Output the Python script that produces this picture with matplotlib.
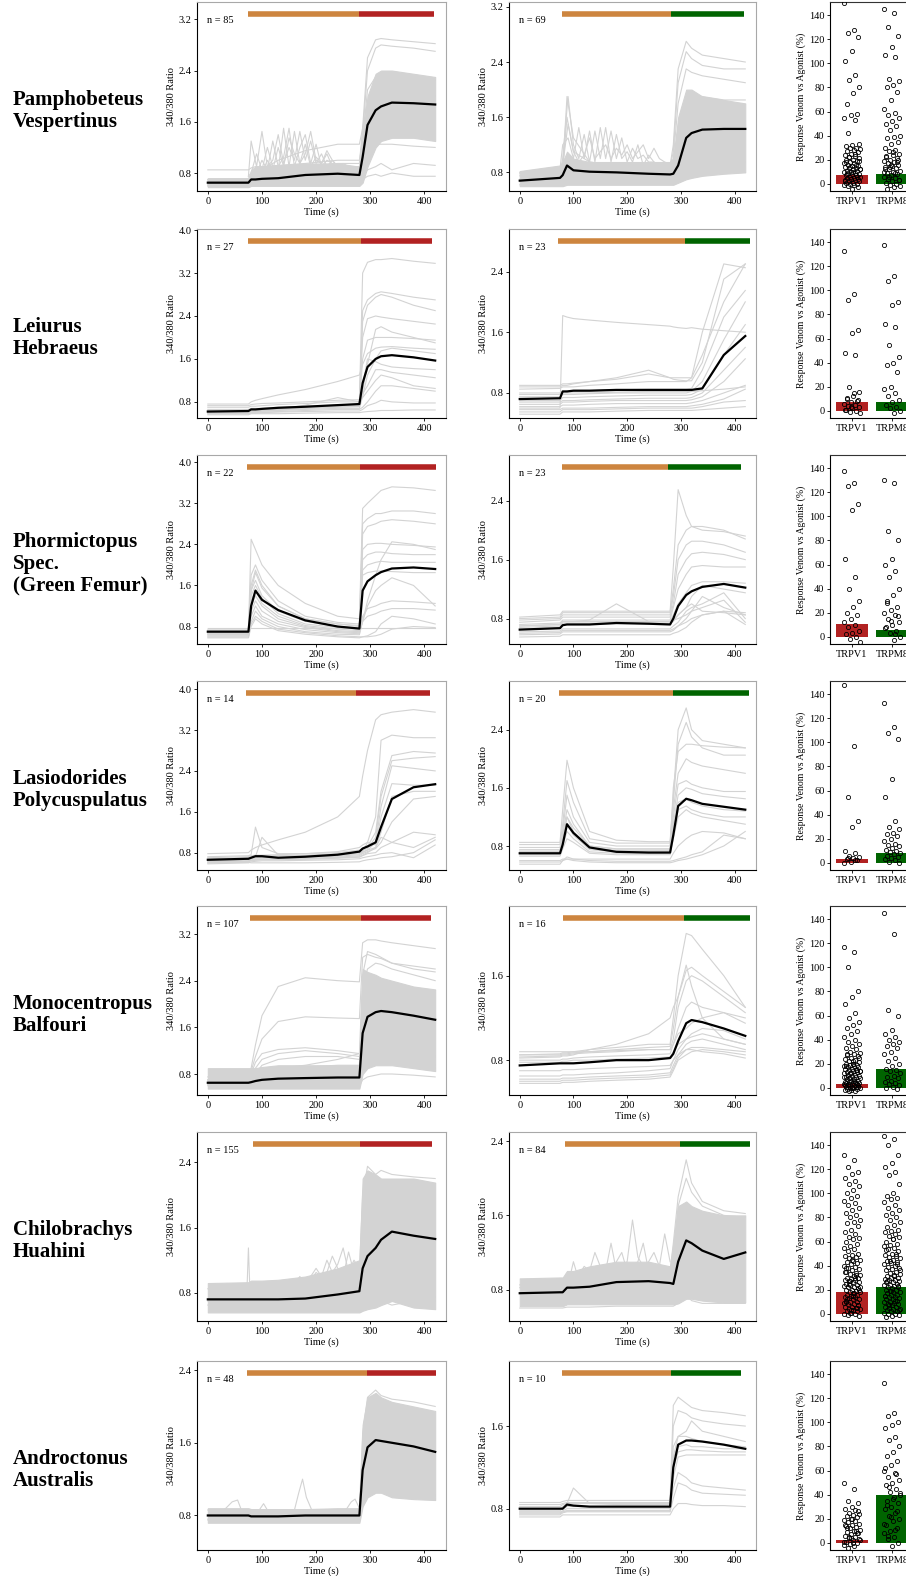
import numpy as np
import matplotlib
matplotlib.use("Agg")
import matplotlib.pyplot as plt
import matplotlib.transforms as mtransforms
from matplotlib.ticker import MultipleLocator, FormatStrFormatter

plt.rcParams['font.family'] = ['Liberation Serif', 'DejaVu Serif']

# --- time knots (s) ---
t_knots = [0, 75, 80, 88, 100, 130, 180, 240, 280, 286, 295, 310, 320, 340, 380, 420]
t_osc = [75, 80, 90, 100, 110, 120, 130, 140, 150, 160, 170, 180, 190, 200, 210, 220, 230, 240, 250, 260, 270, 280]

species = ["Pamphobeteus\nVespertinus", "Leiurus\nHebraeus", "Phormictopus\nSpec.\n(Green Femur)",
           "Lasiodorides\nPolycuspulatus", "Monocentropus\nBalfouri", "Chilobrachys\nHuahini",
           "Androctonus\nAustralis"]
n_v1 = [85, 27, 22, 14, 107, 155, 48]
n_m8 = [69, 23, 23, 20, 16, 84, 10]

# venom start, agonist start, end (s)
stim_v1 = [(74, 280, 417), (74, 283, 415), (72, 282, 421), (71, 274, 410), (77, 283, 412), (83, 281, 414), (72, 294, 422)]
stim_m8 = [(79, 281, 417), (72, 307, 428), (78, 277, 412), (73, 286, 427), (80, 306, 429), (84, 299, 429), (79, 282, 412)]
ylim_v1 = [(0.52, 3.47), (0.5, 4.02), (0.46, 4.14), (0.46, 4.16), (0.44, 3.68), (0.455, 2.77), (0.42, 2.5)]
ylim_m8 = [(0.53, 3.27), (0.47, 2.96), (0.455, 3.02), (0.47, 3.07), (0.47, 2.26), (0.46, 2.5), (0.4, 2.23)]

# ---------------- Pamphobeteus ----------------
pv_v1_mean = [0.65, 0.65, 0.70, 0.70, 0.71, 0.72, 0.77, 0.79, 0.77, 1.05, 1.55, 1.78, 1.84, 1.90, 1.89, 1.87]
pv_v1_lo = [0.58, 0.58, 0.6, 0.6, 0.6, 0.6, 0.6, 0.6, 0.6, 0.65, 0.9, 1.2, 1.3, 1.35, 1.35, 1.3]
pv_v1_hi = [0.72, 0.72, 0.85, 0.9, 0.9, 0.92, 0.95, 0.95, 0.9, 1.3, 2.0, 2.35, 2.4, 2.4, 2.35, 2.3]
pv_v1_cells = [
    [0.7, 0.7, 0.75, 0.8, 0.85, 0.85, 0.9, 0.95, 0.95, 1.5, 2.6, 2.88, 2.9, 2.88, 2.85, 2.82],
    [0.68, 0.68, 0.72, 0.75, 0.78, 0.8, 0.85, 0.9, 0.9, 1.4, 2.4, 2.75, 2.8, 2.78, 2.75, 2.7],
    [0.62, 0.62, 0.66, 0.7, 0.72, 0.75, 0.8, 0.85, 0.85, 1.1, 1.2, 1.25, 1.25, 1.25, 1.22, 1.2],
    [0.6, 0.6, 0.62, 0.62, 0.63, 0.65, 0.7, 0.72, 0.7, 0.75, 0.85, 0.9, 0.95, 0.85, 0.95, 0.92],
    [0.6, 0.6, 0.62, 0.62, 0.62, 0.63, 0.64, 0.65, 0.65, 0.7, 0.75, 0.78, 0.75, 0.8, 0.75, 0.75],
    [0.85, 0.85, 0.88, 0.9, 0.9, 0.92, 0.95, 1.0, 1.0, 1.3, 2.1, 2.3, 2.35, 2.3, 2.3, 2.25],
    [0.7, 0.7, 0.75, 0.8, 0.85, 1.0, 1.15, 1.25, 1.25, 1.5, 1.9, 2.1, 2.15, 2.1, 2.05, 2.0],
]
pv_v1_osc = [
    [0.75, 1.3, 0.9, 1.45, 0.9, 1.0, 1.4, 0.95, 1.2, 1.0, 1.45, 1.0, 1.3, 0.95, 1.1, 0.9, 1.0, 0.9, 0.95, 0.9, 0.85, 0.85],
    [0.75, 0.8, 1.1, 0.85, 1.2, 0.9, 0.85, 1.5, 0.9, 1.45, 0.95, 1.1, 1.45, 1.0, 0.95, 1.1, 0.9, 0.85, 0.9, 0.85, 0.8, 0.8],
    [0.72, 0.75, 0.8, 1.0, 0.85, 1.3, 0.9, 1.05, 1.5, 0.9, 1.2, 1.4, 0.95, 1.25, 0.9, 1.0, 0.95, 0.9, 0.85, 0.85, 0.85, 0.8],
    [0.7, 0.72, 0.75, 0.8, 1.0, 0.85, 1.2, 0.9, 1.35, 1.1, 0.95, 1.25, 0.9, 1.05, 0.95, 1.15, 1.0, 0.9, 0.88, 0.85, 0.82, 0.8],
]
pv_m8_mean = [0.68, 0.72, 0.76, 0.9, 0.83, 0.81, 0.8, 0.78, 0.77, 0.78, 0.9, 1.3, 1.37, 1.42, 1.43, 1.43]
pv_m8_lo = [0.6, 0.6, 0.6, 0.62, 0.62, 0.62, 0.62, 0.62, 0.62, 0.62, 0.65, 0.7, 0.72, 0.75, 0.78, 0.8]
pv_m8_hi = [0.82, 0.9, 0.95, 1.1, 1.0, 0.95, 0.95, 0.95, 0.95, 1.0, 1.6, 2.0, 2.0, 1.9, 1.85, 1.8]
pv_m8_cells = [
    [0.8, 0.85, 0.9, 1.0, 0.95, 0.9, 0.9, 0.9, 0.9, 1.2, 2.3, 2.7, 2.6, 2.5, 2.45, 2.4],
    [0.78, 0.82, 0.88, 0.95, 0.9, 0.88, 0.88, 0.88, 0.88, 1.1, 2.1, 2.55, 2.45, 2.35, 2.3, 2.3],
    [0.75, 0.8, 0.85, 1.9, 1.3, 0.95, 0.9, 0.9, 0.9, 1.0, 1.8, 2.3, 2.25, 2.2, 2.15, 2.1],
    [0.7, 0.75, 0.85, 1.6, 1.1, 0.95, 0.9, 0.9, 0.9, 0.95, 1.4, 1.85, 1.9, 1.9, 1.85, 1.85],
    [0.62, 0.62, 0.65, 0.66, 0.66, 0.66, 0.66, 0.66, 0.66, 0.68, 0.72, 0.8, 0.85, 0.9, 0.92, 0.95],
]
pv_m8_osc = [
    [0.85, 1.2, 1.3, 1.0, 1.45, 1.0, 1.4, 0.95, 1.45, 1.0, 1.4, 1.0, 1.3, 0.95, 1.15, 1.0, 1.05, 0.95, 0.95, 0.9, 0.9, 0.9],
    [0.8, 1.0, 1.9, 1.2, 1.0, 1.35, 0.95, 1.4, 1.0, 1.45, 0.95, 1.35, 1.0, 1.1, 0.95, 1.2, 0.9, 1.05, 0.95, 0.9, 0.9, 0.9],
    [0.8, 0.9, 1.5, 1.1, 0.95, 1.05, 1.3, 1.0, 1.1, 1.2, 1.0, 1.15, 1.05, 1.2, 1.0, 1.1, 1.2, 1.0, 1.15, 1.0, 0.95, 0.92],
]

# ---------------- Leiurus ----------------
lh_v1_mean = [0.62, 0.63, 0.66, 0.66, 0.67, 0.69, 0.71, 0.74, 0.76, 1.15, 1.45, 1.6, 1.65, 1.67, 1.63, 1.57]
lh_v1_cells = [
    [0.7, 0.7, 0.72, 0.72, 0.73, 0.75, 0.77, 0.8, 0.8, 3.2, 3.4, 3.45, 3.45, 3.47, 3.42, 3.38],
    [0.66, 0.66, 0.68, 0.68, 0.68, 0.7, 0.72, 0.74, 0.76, 2.5, 2.7, 2.82, 2.85, 2.82, 2.75, 2.7],
    [0.64, 0.64, 0.66, 0.66, 0.66, 0.68, 0.7, 0.73, 0.74, 2.3, 2.6, 2.75, 2.8, 2.75, 2.6, 2.5],
    [0.63, 0.63, 0.65, 0.65, 0.65, 0.67, 0.69, 0.71, 0.72, 2.0, 2.35, 2.4, 2.38, 2.35, 2.3, 2.25],
    [0.62, 0.62, 0.64, 0.64, 0.64, 0.66, 0.68, 0.7, 0.71, 1.6, 1.95, 2.0, 2.0, 2.0, 1.98, 1.95],
    [0.76, 0.76, 0.8, 0.83, 0.86, 0.93, 1.03, 1.18, 1.3, 1.5, 1.7, 1.8, 1.82, 1.83, 1.8, 1.78],
    [0.6, 0.6, 0.62, 0.62, 0.63, 0.64, 0.66, 0.68, 0.68, 0.9, 1.3, 1.6, 1.75, 1.8, 1.75, 1.7],
    [0.61, 0.61, 0.63, 0.63, 0.64, 0.66, 0.74, 0.88, 0.8, 0.95, 1.1, 1.4, 1.4, 1.35, 1.3, 1.25],
    [0.58, 0.58, 0.6, 0.6, 0.61, 0.62, 0.64, 0.66, 0.66, 0.7, 0.8, 1.0, 1.1, 1.1, 1.05, 1.0],
    [0.58, 0.58, 0.59, 0.59, 0.6, 0.61, 0.62, 0.63, 0.63, 0.66, 0.73, 0.78, 0.83, 0.8, 0.78, 0.78],
    [0.56, 0.56, 0.58, 0.58, 0.58, 0.58, 0.59, 0.6, 0.6, 0.61, 0.62, 0.63, 0.64, 0.64, 0.65, 0.65],
    [0.6, 0.6, 0.62, 0.62, 0.63, 0.65, 0.68, 0.72, 0.73, 1.0, 1.5, 2.15, 2.2, 2.1, 2.0, 1.9],
    [0.62, 0.62, 0.64, 0.64, 0.65, 0.67, 0.7, 0.74, 0.75, 1.1, 1.6, 1.55, 1.5, 1.45, 1.42, 1.4],
    [0.73, 0.73, 0.75, 0.76, 0.77, 0.78, 0.8, 0.83, 0.84, 0.88, 1.0, 1.2, 1.3, 1.25, 1.1, 1.05],
]
lh_m8_mean = [0.72, 0.73, 0.82, 0.82, 0.83, 0.83, 0.84, 0.84, 0.84, 0.84, 0.84, 0.84, 0.84, 0.86, 1.3, 1.55]
lh_m8_cells = [
    [0.6, 0.6, 1.82, 1.8, 1.78, 1.76, 1.73, 1.7, 1.68, 1.67, 1.66, 1.65, 1.66, 1.64, 1.62, 1.6],
    [0.85, 0.86, 0.88, 0.88, 0.88, 0.9, 0.92, 0.95, 0.95, 0.95, 0.95, 0.95, 1.0, 1.6, 2.5, 2.45],
    [0.88, 0.88, 0.9, 0.9, 0.92, 0.95, 1.0, 1.1, 1.0, 1.0, 1.0, 1.0, 1.0, 1.3, 2.0, 2.5],
    [0.8, 0.8, 0.82, 0.82, 0.82, 0.83, 0.84, 0.85, 0.85, 0.85, 0.85, 0.85, 0.86, 1.1, 1.8, 2.15],
    [0.75, 0.75, 0.78, 0.78, 0.78, 0.79, 0.8, 0.8, 0.8, 0.8, 0.8, 0.8, 0.82, 0.95, 1.5, 2.0],
    [0.7, 0.7, 0.74, 0.74, 0.74, 0.75, 0.76, 0.77, 0.77, 0.77, 0.77, 0.77, 0.78, 0.85, 1.3, 1.7],
    [0.68, 0.68, 0.7, 0.7, 0.7, 0.71, 0.72, 0.73, 0.73, 0.73, 0.73, 0.73, 0.74, 0.8, 1.1, 1.4],
    [0.65, 0.65, 0.68, 0.68, 0.68, 0.69, 0.7, 0.7, 0.7, 0.7, 0.7, 0.7, 0.71, 0.75, 0.95, 1.25],
    [0.62, 0.62, 0.64, 0.64, 0.64, 0.65, 0.66, 0.66, 0.66, 0.66, 0.66, 0.66, 0.67, 0.7, 0.8, 0.9],
    [0.58, 0.58, 0.6, 0.6, 0.6, 0.6, 0.61, 0.62, 0.62, 0.62, 0.62, 0.62, 0.63, 0.65, 0.72, 0.85],
    [0.55, 0.55, 0.58, 0.58, 0.58, 0.58, 0.59, 0.6, 0.6, 0.6, 0.6, 0.6, 0.6, 0.62, 0.68, 0.7],
    [0.9, 0.9, 0.92, 0.92, 0.93, 0.95, 0.98, 1.05, 1.0, 0.98, 0.97, 0.96, 0.96, 1.2, 2.3, 2.5],
    [0.78, 0.78, 0.8, 0.8, 0.8, 0.8, 0.81, 0.82, 0.82, 0.82, 0.82, 0.82, 0.82, 0.83, 0.85, 0.88],
    [0.52, 0.52, 0.55, 0.55, 0.55, 0.55, 0.56, 0.57, 0.57, 0.57, 0.57, 0.57, 0.57, 0.58, 0.6, 0.62],
]

# ---------------- Phormictopus ----------------
ph_v1_mean = [0.7, 0.7, 1.2, 1.5, 1.32, 1.12, 0.92, 0.8, 0.76, 1.5, 1.68, 1.8, 1.86, 1.93, 1.95, 1.92]
ph_v1_cells = [
    [0.72, 0.72, 2.5, 2.3, 2.0, 1.6, 1.25, 1.0, 0.95, 3.1, 3.2, 3.35, 3.45, 3.52, 3.5, 3.45],
    [0.75, 0.75, 1.8, 2.0, 1.7, 1.3, 1.0, 0.88, 0.85, 2.8, 2.9, 3.0, 3.0, 3.05, 3.05, 3.0],
    [0.7, 0.7, 1.6, 1.9, 1.6, 1.2, 0.95, 0.85, 0.8, 2.6, 2.75, 2.8, 2.85, 2.88, 2.85, 2.8],
    [0.68, 0.68, 1.5, 1.7, 1.4, 1.1, 0.9, 0.8, 0.78, 2.3, 2.4, 2.42, 2.42, 2.4, 2.38, 2.35],
    [0.7, 0.7, 1.4, 1.6, 1.35, 1.05, 0.85, 0.78, 0.75, 2.1, 2.2, 2.25, 2.25, 2.22, 2.2, 2.2],
    [0.66, 0.66, 1.3, 1.5, 1.25, 1.0, 0.82, 0.75, 0.72, 1.9, 2.0, 2.05, 2.07, 2.05, 2.05, 2.05],
    [0.65, 0.65, 1.2, 1.4, 1.2, 0.95, 0.8, 0.72, 0.7, 0.9, 1.3, 1.8, 2.1, 2.45, 2.4, 2.3],
    [0.68, 0.68, 1.1, 1.3, 1.1, 0.9, 0.78, 0.7, 0.68, 0.9, 1.2, 1.5, 1.6, 1.75, 1.6, 1.2],
    [0.64, 0.64, 1.0, 1.2, 1.0, 0.85, 0.74, 0.68, 0.66, 1.0, 1.15, 1.2, 1.25, 1.3, 1.28, 1.25],
    [0.62, 0.62, 0.9, 1.1, 0.95, 0.8, 0.7, 0.65, 0.64, 0.9, 1.0, 1.05, 1.1, 1.15, 1.15, 1.12],
    [0.78, 0.78, 0.78, 0.78, 0.78, 0.78, 0.78, 0.78, 0.78, 0.78, 0.78, 0.78, 0.78, 0.78, 0.78, 0.78],
    [0.6, 0.6, 0.85, 1.0, 0.9, 0.75, 0.68, 0.62, 0.6, 0.6, 0.62, 0.7, 0.85, 1.0, 0.95, 0.85],
    [0.72, 0.72, 1.5, 1.85, 1.55, 1.2, 0.95, 0.85, 0.82, 1.8, 1.85, 1.88, 1.88, 1.87, 1.85, 1.85],
    [0.58, 0.58, 0.8, 0.95, 0.85, 0.72, 0.65, 0.6, 0.58, 0.6, 0.6, 0.62, 0.65, 0.75, 0.8, 0.78],
]
ph_m8_mean = [0.65, 0.67, 0.71, 0.72, 0.72, 0.72, 0.74, 0.73, 0.72, 0.8, 0.97, 1.12, 1.17, 1.23, 1.27, 1.22]
ph_m8_cells = [
    [0.82, 0.85, 0.9, 0.9, 0.9, 0.9, 0.9, 0.9, 0.9, 1.5, 2.55, 2.2, 2.05, 2.0, 1.98, 1.92],
    [0.8, 0.82, 0.88, 0.88, 0.88, 0.88, 0.88, 0.88, 0.88, 1.2, 1.8, 2.0, 2.05, 2.05, 2.0, 1.88],
    [0.78, 0.8, 0.85, 0.85, 0.85, 0.85, 0.85, 0.85, 0.85, 1.1, 1.6, 1.8, 1.85, 1.85, 1.8, 1.7],
    [0.75, 0.78, 0.82, 0.82, 0.82, 0.82, 0.82, 0.82, 0.82, 1.0, 1.4, 1.6, 1.68, 1.7, 1.67, 1.6],
    [0.72, 0.74, 0.78, 0.78, 0.78, 0.78, 0.78, 0.78, 0.78, 0.95, 1.2, 1.4, 1.5, 1.52, 1.5, 1.5],
    [0.7, 0.72, 0.76, 0.76, 0.76, 0.76, 0.76, 0.76, 0.76, 0.85, 1.0, 1.15, 1.25, 1.3, 1.3, 1.28],
    [0.68, 0.7, 0.74, 0.74, 0.74, 0.74, 0.74, 0.74, 0.74, 0.78, 0.85, 0.95, 1.1, 1.25, 1.2, 1.15],
    [0.7, 0.72, 0.76, 0.76, 0.76, 0.78, 1.0, 0.76, 0.76, 0.78, 0.8, 0.85, 0.9, 1.1, 0.95, 0.85],
    [0.62, 0.63, 0.66, 0.66, 0.66, 0.66, 0.66, 0.66, 0.66, 0.7, 0.75, 0.9, 0.95, 1.0, 1.15, 0.8],
    [0.58, 0.59, 0.62, 0.62, 0.62, 0.62, 0.62, 0.62, 0.62, 0.64, 0.7, 0.8, 0.9, 0.95, 1.05, 0.75],
    [0.55, 0.56, 0.58, 0.58, 0.58, 0.58, 0.58, 0.58, 0.58, 0.6, 0.62, 0.68, 0.75, 0.85, 0.9, 0.72],
    [0.6, 0.61, 0.64, 0.64, 0.64, 0.64, 0.64, 0.64, 0.64, 0.66, 0.7, 0.75, 0.8, 0.85, 0.9, 0.88],
    [0.66, 0.68, 0.72, 0.72, 0.72, 0.72, 0.73, 0.73, 0.73, 0.76, 0.85, 0.95, 1.0, 0.9, 0.88, 0.85],
]

# ---------------- Lasiodorides ----------------
lp_v1_mean = [0.66, 0.68, 0.7, 0.73, 0.73, 0.7, 0.72, 0.76, 0.82, 0.88, 0.92, 1.0, 1.3, 1.85, 2.08, 2.14]
lp_v1_cells = [
    [0.78, 0.8, 0.85, 0.9, 0.95, 1.05, 1.2, 1.5, 1.9, 2.3, 2.8, 3.4, 3.5, 3.55, 3.6, 3.55],
    [0.7, 0.72, 0.74, 0.75, 0.75, 0.76, 0.78, 0.82, 0.9, 0.95, 1.0, 1.5, 3.0, 3.1, 3.05, 3.05],
    [0.72, 0.74, 0.76, 1.3, 0.9, 0.78, 0.78, 0.8, 0.85, 0.88, 0.92, 1.2, 2.0, 2.7, 2.78, 2.75],
    [0.68, 0.7, 0.72, 0.73, 0.74, 0.74, 0.75, 0.78, 0.82, 0.85, 0.88, 1.1, 1.9, 2.6, 2.65, 2.68],
    [0.66, 0.68, 0.7, 0.72, 1.1, 0.75, 0.74, 0.76, 0.8, 0.82, 0.85, 1.0, 1.7, 2.5, 2.45, 2.4],
    [0.65, 0.67, 0.69, 0.7, 0.71, 0.71, 0.72, 0.74, 0.78, 0.82, 1.0, 0.95, 1.5, 2.15, 2.12, 2.12],
    [0.64, 0.66, 0.68, 0.69, 0.7, 0.7, 0.71, 0.73, 0.76, 0.8, 0.85, 0.9, 1.2, 1.9, 2.0, 2.0],
    [0.62, 0.64, 0.66, 0.67, 0.68, 0.68, 0.69, 0.71, 0.74, 0.78, 0.82, 0.88, 1.0, 1.4, 1.85, 1.9],
    [0.62, 0.63, 0.65, 0.66, 0.67, 0.67, 0.68, 0.7, 0.72, 0.75, 0.8, 0.9, 1.1, 1.0, 1.2, 1.15],
    [0.6, 0.62, 0.64, 0.65, 0.66, 0.66, 0.67, 0.69, 0.71, 0.74, 0.78, 0.8, 0.9, 1.0, 0.9, 1.1],
    [0.58, 0.6, 0.62, 0.63, 0.64, 0.64, 0.65, 0.66, 0.68, 0.7, 0.72, 0.75, 0.78, 0.8, 0.7, 0.95],
    [0.6, 0.61, 0.6, 0.6, 0.6, 0.6, 0.6, 0.61, 0.62, 0.64, 0.66, 0.68, 0.7, 0.72, 0.8, 1.05],
]
lp_m8_mean = [0.7, 0.7, 0.82, 1.1, 0.98, 0.78, 0.72, 0.71, 0.71, 0.95, 1.35, 1.45, 1.43, 1.38, 1.34, 1.3]
lp_m8_cells = [
    [0.85, 0.85, 1.3, 1.98, 1.6, 1.0, 0.88, 0.86, 0.86, 1.5, 2.4, 2.7, 2.4, 2.25, 2.2, 2.15],
    [0.82, 0.82, 1.1, 1.7, 1.4, 0.9, 0.84, 0.84, 0.84, 1.4, 2.2, 2.5, 2.3, 2.15, 2.05, 2.05],
    [0.78, 0.78, 1.0, 1.5, 1.2, 0.85, 0.8, 0.8, 0.8, 1.3, 1.8, 2.0, 1.95, 1.9, 1.85, 1.8],
    [0.75, 0.75, 0.95, 1.3, 1.1, 0.8, 0.76, 0.76, 0.76, 1.2, 1.65, 1.7, 1.65, 1.6, 1.55, 1.55],
    [0.72, 0.72, 0.9, 1.2, 1.0, 0.78, 0.74, 0.74, 0.74, 1.1, 1.5, 1.6, 1.58, 1.52, 1.48, 1.45],
    [0.7, 0.7, 0.85, 1.1, 0.95, 0.75, 0.72, 0.72, 0.72, 1.0, 1.4, 1.45, 1.4, 1.35, 1.3, 1.28],
    [0.68, 0.68, 0.8, 1.0, 0.9, 0.72, 0.7, 0.7, 0.7, 0.95, 1.3, 1.35, 1.3, 1.25, 1.2, 1.2],
    [0.66, 0.66, 0.76, 0.9, 0.85, 0.7, 0.68, 0.68, 0.68, 0.9, 1.2, 1.3, 1.25, 1.2, 1.15, 1.1],
    [0.6, 0.6, 0.62, 0.62, 0.62, 0.62, 0.62, 0.62, 0.62, 0.7, 0.8, 0.9, 0.95, 1.0, 0.98, 0.9],
    [0.55, 0.55, 0.6, 0.62, 0.6, 0.58, 0.57, 0.57, 0.57, 0.58, 0.6, 0.62, 0.64, 0.68, 0.8, 1.0],
    [0.58, 0.58, 0.6, 0.65, 0.62, 0.6, 0.59, 0.59, 0.59, 0.6, 0.62, 0.65, 0.68, 0.72, 0.95, 0.9],
    [0.73, 0.73, 0.88, 1.2, 1.05, 0.8, 0.76, 0.76, 0.76, 1.6, 2.1, 2.2, 2.2, 2.18, 2.16, 2.15],
]

# ---------------- Monocentropus ----------------
mb_v1_mean = [0.65, 0.65, 0.66, 0.68, 0.7, 0.72, 0.73, 0.74, 0.74, 1.5, 1.78, 1.86, 1.88, 1.86, 1.8, 1.73]
mb_v1_lo = [0.55, 0.55, 0.55, 0.55, 0.55, 0.55, 0.55, 0.55, 0.55, 0.8, 0.9, 0.95, 0.95, 0.95, 0.9, 0.85]
mb_v1_hi = [0.9, 0.9, 0.9, 0.9, 0.92, 0.95, 0.95, 0.95, 0.95, 2.6, 2.55, 2.5, 2.45, 2.4, 2.3, 2.25]
mb_v1_cells = [
    [0.7, 0.7, 0.9, 1.3, 1.8, 2.3, 2.45, 2.4, 2.38, 3.05, 3.1, 3.1, 3.08, 3.05, 3.0, 2.95],
    [0.7, 0.7, 0.85, 1.1, 1.4, 1.7, 1.78, 1.76, 1.75, 2.8, 2.85, 2.8, 2.78, 2.7, 2.65, 2.6],
    [0.7, 0.7, 0.8, 1.0, 1.15, 1.22, 1.25, 1.2, 1.15, 2.5, 2.9, 2.85, 2.8, 2.7, 2.6, 2.55],
    [0.68, 0.68, 0.75, 0.9, 1.05, 1.15, 1.2, 1.15, 1.1, 1.4, 1.5, 1.45, 1.4, 1.3, 1.2, 1.1],
    [0.65, 0.65, 0.7, 0.8, 0.95, 1.05, 1.1, 1.1, 1.05, 1.3, 1.25, 1.2, 1.15, 1.1, 1.0, 0.95],
    [0.62, 0.62, 0.66, 0.7, 0.8, 0.9, 0.95, 1.05, 1.15, 1.2, 1.15, 1.1, 1.05, 1.0, 0.95, 0.9],
    [0.6, 0.6, 0.6, 0.6, 0.6, 0.6, 0.6, 0.6, 0.6, 0.7, 0.75, 0.78, 0.8, 0.8, 0.78, 0.75],
    [0.75, 0.75, 0.78, 0.8, 0.85, 0.9, 0.92, 0.95, 0.95, 2.3, 2.6, 2.7, 2.68, 2.6, 2.5, 2.4],
]
mb_m8_mean = [0.75, 0.77, 0.77, 0.77, 0.77, 0.78, 0.8, 0.8, 0.82, 0.86, 0.98, 1.15, 1.18, 1.16, 1.1, 1.03]
mb_m8_cells = [
    [0.85, 0.86, 0.87, 0.87, 0.88, 0.9, 0.92, 0.95, 0.95, 1.2, 1.6, 2.0, 1.98, 1.85, 1.6, 1.3],
    [0.85, 0.85, 0.86, 0.86, 0.87, 0.88, 0.9, 0.92, 0.93, 1.1, 1.4, 1.65, 1.68, 1.6, 1.45, 1.3],
    [0.83, 0.84, 0.85, 0.85, 0.86, 0.87, 0.88, 0.9, 0.9, 1.0, 1.3, 1.55, 1.6, 1.55, 1.4, 1.25],
    [0.82, 0.83, 0.84, 0.84, 0.85, 0.9, 0.95, 1.05, 1.2, 1.3, 1.4, 1.7, 1.5, 1.2, 1.0, 0.95],
    [0.8, 0.8, 0.81, 0.81, 0.82, 0.83, 0.84, 0.85, 0.86, 0.95, 1.05, 1.1, 1.15, 1.2, 1.25, 1.15],
    [0.78, 0.78, 0.79, 0.79, 0.8, 0.8, 0.81, 0.82, 0.83, 0.88, 0.95, 1.0, 1.05, 1.1, 1.08, 1.0],
    [0.65, 0.65, 0.66, 0.66, 0.66, 0.67, 0.68, 0.7, 0.72, 0.8, 0.9, 1.0, 1.02, 1.05, 1.0, 0.95],
    [0.62, 0.62, 0.63, 0.63, 0.63, 0.64, 0.65, 0.66, 0.68, 0.75, 0.85, 0.95, 0.98, 1.0, 0.95, 0.9],
    [0.6, 0.6, 0.61, 0.61, 0.61, 0.62, 0.63, 0.64, 0.66, 0.72, 0.82, 0.9, 0.92, 0.92, 0.9, 0.88],
    [0.58, 0.58, 0.59, 0.59, 0.59, 0.6, 0.61, 0.62, 0.64, 0.7, 0.8, 0.85, 0.88, 0.9, 0.88, 0.85],
    [0.7, 0.7, 0.71, 0.71, 0.71, 0.72, 0.73, 0.74, 0.75, 0.8, 0.85, 0.9, 0.9, 0.88, 0.86, 0.82],
    [0.88, 0.88, 0.88, 0.88, 0.88, 0.88, 0.89, 0.9, 0.9, 0.95, 1.1, 1.3, 1.35, 1.3, 1.25, 1.2],
]

# ---------------- Chilobrachys ----------------
ch_v1_mean = [0.72, 0.72, 0.72, 0.72, 0.72, 0.72, 0.73, 0.78, 0.82, 1.1, 1.25, 1.35, 1.45, 1.55, 1.5, 1.46]
ch_v1_lo = [0.56, 0.56, 0.56, 0.56, 0.56, 0.56, 0.56, 0.56, 0.56, 0.58, 0.6, 0.62, 0.65, 0.7, 0.62, 0.6]
ch_v1_hi = [0.92, 0.93, 0.95, 0.95, 0.95, 0.96, 1.0, 1.1, 1.2, 2.2, 2.3, 2.25, 2.2, 2.2, 2.2, 2.15]
ch_v1_cells = [
    [0.85, 0.85, 0.9, 0.9, 0.9, 0.92, 0.95, 1.0, 1.05, 2.0, 2.35, 2.25, 2.3, 2.25, 2.22, 2.2],
    [0.7, 0.7, 0.72, 0.72, 0.72, 0.73, 0.75, 0.8, 0.85, 1.0, 1.1, 0.9, 0.7, 0.65, 0.7, 0.75],
    [0.65, 0.65, 0.67, 0.67, 0.67, 0.68, 0.7, 0.75, 0.8, 0.95, 1.0, 0.85, 0.75, 0.7, 0.68, 0.7],
]
ch_v1_osc = [
    [0.9, 0.9, 0.9, 0.9, 0.9, 0.9, 0.9, 0.9, 0.9, 0.9, 1.0, 0.9, 0.95, 1.05, 1.0, 1.2, 1.05, 1.15, 1.35, 1.05, 1.2, 1.1],
    [0.85, 0.85, 0.85, 0.85, 0.85, 0.85, 0.88, 0.88, 0.9, 0.92, 0.9, 0.95, 1.0, 1.1, 1.0, 1.05, 1.25, 1.1, 1.0, 1.3, 1.05, 1.0],
]
ch_v1_extra = [([72, 75, 78], [0.78, 1.35, 0.78])]
ch_m8_mean = [0.76, 0.77, 0.77, 0.82, 0.82, 0.83, 0.88, 0.89, 0.87, 0.86, 1.1, 1.33, 1.3, 1.22, 1.13, 1.2]
ch_m8_lo = [0.62, 0.62, 0.62, 0.64, 0.64, 0.64, 0.64, 0.64, 0.64, 0.64, 0.65, 0.7, 0.7, 0.68, 0.66, 0.66]
ch_m8_hi = [0.92, 0.93, 0.93, 1.0, 1.0, 1.05, 1.1, 1.1, 1.05, 1.3, 1.7, 1.75, 1.7, 1.65, 1.6, 1.6]
ch_m8_cells = [
    [0.85, 0.86, 0.86, 0.95, 0.95, 0.97, 1.0, 1.0, 1.0, 1.3, 1.8, 2.2, 1.95, 1.75, 1.65, 1.62],
    [0.82, 0.83, 0.83, 0.9, 0.9, 0.92, 0.95, 0.95, 0.95, 1.2, 1.7, 2.0, 1.85, 1.7, 1.6, 1.58],
    [0.6, 0.6, 0.6, 0.61, 0.61, 0.61, 0.62, 0.62, 0.62, 0.62, 0.65, 0.75, 0.68, 0.65, 0.65, 0.65],
]
ch_m8_osc = [
    [0.8, 0.8, 0.9, 0.9, 0.95, 1.05, 1.0, 1.2, 1.05, 1.0, 1.3, 1.0, 1.05, 1.1, 1.55, 1.15, 1.05, 1.1, 1.2, 1.05, 1.4, 1.1],
    [0.78, 0.78, 0.85, 1.1, 0.9, 0.95, 0.9, 1.0, 0.95, 1.05, 1.0, 1.1, 1.2, 1.0, 1.05, 1.1, 1.3, 1.0, 1.05, 1.0, 1.0, 1.0],
]

# ---------------- Androctonus ----------------
aa_v1_mean = [0.8, 0.8, 0.79, 0.79, 0.79, 0.79, 0.8, 0.8, 0.8, 1.3, 1.55, 1.63, 1.62, 1.6, 1.56, 1.5]
aa_v1_lo = [0.72, 0.72, 0.72, 0.72, 0.72, 0.72, 0.72, 0.72, 0.72, 0.9, 1.0, 1.05, 1.05, 1.0, 0.98, 0.97]
aa_v1_hi = [0.88, 0.88, 0.87, 0.87, 0.87, 0.87, 0.87, 0.88, 0.88, 1.8, 2.1, 2.15, 2.1, 2.05, 2.0, 1.95]
aa_v1_cells = [
    [0.75, 0.75, 0.75, 0.75, 0.75, 0.75, 0.75, 0.75, 0.75, 0.9, 1.1, 1.25, 1.15, 1.1, 1.05, 0.98],
    [0.76, 0.76, 0.76, 0.76, 0.76, 0.76, 0.76, 0.76, 0.76, 0.95, 1.15, 1.2, 1.18, 1.12, 1.08, 1.02],
    [0.86, 0.86, 0.86, 0.86, 0.86, 0.86, 0.86, 0.86, 0.86, 1.7, 2.1, 2.18, 2.12, 2.08, 2.05, 2.0],
]
aa_v1_extra = [([30, 45, 55, 62, 75], [0.86, 0.95, 0.97, 0.86, 0.86]),
               ([160, 168, 175, 182, 192], [0.86, 1.05, 1.2, 1.0, 0.86]),
               ([255, 265, 272, 280], [0.86, 0.95, 0.98, 0.88]),
               ([95, 103, 110], [0.86, 0.93, 0.86])]
aa_m8_mean = [0.8, 0.8, 0.8, 0.84, 0.83, 0.82, 0.82, 0.82, 0.82, 1.2, 1.42, 1.46, 1.46, 1.45, 1.42, 1.38]
aa_m8_cells = [
    [0.86, 0.86, 0.87, 0.88, 0.88, 0.88, 0.88, 0.88, 0.88, 1.8, 1.88, 1.82, 1.78, 1.75, 1.73, 1.7],
    [0.84, 0.84, 0.85, 0.86, 0.86, 0.86, 0.86, 0.86, 0.86, 1.6, 1.75, 1.72, 1.68, 1.65, 1.62, 1.6],
    [0.82, 0.82, 0.84, 0.85, 0.85, 0.85, 0.85, 0.85, 0.85, 1.4, 1.5, 1.55, 1.65, 1.55, 1.5, 1.45],
    [0.8, 0.8, 0.82, 0.85, 1.0, 0.85, 0.84, 0.84, 0.84, 1.3, 1.4, 1.42, 1.4, 1.4, 1.38, 1.38],
    [0.78, 0.78, 0.8, 0.82, 0.82, 0.82, 0.82, 0.82, 0.82, 1.2, 1.35, 1.37, 1.37, 1.36, 1.35, 1.35],
    [0.76, 0.76, 0.78, 0.8, 0.8, 0.8, 0.8, 0.8, 0.8, 1.1, 1.3, 1.32, 1.32, 1.32, 1.32, 1.32],
    [0.75, 0.75, 0.77, 0.78, 0.78, 0.78, 0.78, 0.78, 0.78, 1.0, 1.15, 1.1, 1.05, 1.02, 1.0, 0.98],
    [0.74, 0.74, 0.76, 0.77, 0.77, 0.77, 0.77, 0.77, 0.77, 0.9, 1.05, 1.02, 0.98, 0.95, 0.94, 0.93],
    [0.72, 0.72, 0.74, 0.74, 0.74, 0.74, 0.74, 0.74, 0.74, 0.8, 0.85, 0.85, 0.84, 0.83, 0.83, 0.82],
    [0.77, 0.77, 0.77, 0.78, 0.78, 0.78, 0.78, 0.78, 0.78, 1.3, 1.5, 1.5, 1.48, 1.45, 1.42, 1.4],
]

# --- response venom vs agonist (%) ---
bar_v1 = [7, 7, 11, 3, 3, 18, 2]
bar_m8 = [8, 7, 6, 8, 16, 22, 40]
pv_v1_resp = [150, 128, 125, 122, 110, 102, 90, 86, 80, 75, 66, 58, 57, 55, 53, 42, 33, 32, 31, 30, 30, 29, 28, 27, 26,
              25, 24, 23, 22, 21, 20, 20, 19, 18, 17, 17, 16, 15, 15, 14, 13, 13, 12, 12, 11, 11, 10, 10, 9, 9, 8, 8,
              7, 7, 6, 6, 5, 5, 4, 4, 3, 3, 2, 2, 1, 1, 0, 0, -1, -1, -2, -3, -4, 18, 16, 14, 12, 10, 8, 6, 4, 2, 25, 22, 19]
pv_m8_resp = [145, 142, 130, 123, 114, 107, 105, 87, 85, 82, 80, 76, 70, 62, 59, 57, 55, 52, 50, 48, 45, 40, 39, 38, 35,
              33, 30, 28, 27, 25, 24, 22, 21, 20, 19, 18, 17, 16, 15, 14, 13, 12, 11, 10, 9, 8, 7, 6, 5, 4, 3, 2, 1, 0,
              -1, -2, -3, -4, 20, 16, 12, 9, 6, 3, 26, 23, 18, 14, 10]
lh_v1_resp = [133, 97, 92, 67, 65, 48, 46, 20, 16, 12, 10, 8, 7, 6, 5, 4, 3, 2, 1, 0, -1, -2, 15, 11, 9, 3, 1]
lh_m8_resp = [138, 112, 108, 90, 88, 72, 70, 55, 45, 40, 38, 32, 20, 18, 15, 12, 9, 7, 5, 3, 2, 0, -2]
ph_v1_resp = [138, 128, 125, 110, 105, 65, 50, 40, 30, 25, 20, 18, 15, 12, 10, 8, 5, 3, 2, 0, -2, -4]
ph_m8_resp = [130, 128, 88, 80, 65, 60, 55, 50, 40, 35, 30, 25, 22, 20, 18, 15, 12, 10, 8, 5, 3, 0, -3, 28, 17, 13, 7, 2]
lp_v1_resp = [148, 97, 55, 35, 30, 10, 8, 6, 5, 4, 3, 2, 1, 0, 2, 4]
lp_m8_resp = [133, 113, 108, 103, 70, 55, 35, 30, 28, 25, 24, 22, 20, 18, 16, 15, 14, 12, 11, 10, 9, 8, 7, 6, 5, 4, 3,
              2, 1, 0]
mb_v1_resp = [117, 113, 100, 80, 75, 70, 62, 58, 55, 52, 50, 47, 45, 42, 40, 38, 36, 35, 33, 32, 30, 29, 28, 27, 26, 25,
              24, 23, 22, 21, 20, 20, 19, 19, 18, 18, 17, 17, 16, 16, 15, 15, 14, 14, 13, 13, 12, 12, 11, 11, 10, 10, 9,
              9, 8, 8, 7, 7, 6, 6, 5, 5, 5, 4, 4, 4, 3, 3, 3, 2, 2, 2, 1, 1, 1, 0, 0, 0, -1, -1, -2, -2, -3, -3, 25, 22,
              18, 15, 12, 9, 6, 3, 1, 0, 2, 4, 8, 14, 20, 28]
mb_m8_resp = [145, 128, 65, 60, 48, 45, 42, 40, 38, 36, 35, 33, 30, 28, 25, 22, 20, 18, 16, 15, 14, 12, 10, 9, 8, 6, 5,
              4, 3, 2, 1, 0, -1]
ch_v1_resp = [132, 128, 122, 118, 116, 113, 110, 108, 106, 103, 100, 98, 96, 94, 92, 90, 88, 86, 84, 82, 80, 78, 76, 75,
              73, 70, 68, 66, 64, 63, 62, 60, 58, 56, 55, 54, 52, 50, 49, 48, 47, 46, 45, 44, 43, 42, 41, 40, 39, 38,
              37, 36, 35, 34, 33, 32, 31, 30, 30, 29, 28, 28, 27, 26, 26, 25, 24, 24, 23, 22, 22, 21, 20, 20, 19, 18,
              18, 17, 16, 16, 15, 14, 14, 13, 12, 12, 11, 10, 10, 9, 8, 8, 7, 6, 6, 5, 4, 4, 3, 2, 2, 1, 0, 0, -1, -2,
              45, 38, 32, 27, 22, 17, 12, 7, 3, 35, 30, 25, 20, 15, 10, 5, 1]
ch_m8_resp = [148, 145, 140, 132, 125, 122, 118, 115, 108, 100, 98, 96, 95, 93, 90, 88, 86, 84, 82, 80, 78, 76, 74, 72,
              70, 69, 68, 66, 65, 64, 62, 60, 58, 57, 56, 55, 54, 52, 50, 49, 48, 47, 46, 45, 44, 43, 42, 41, 40, 39,
              38, 37, 36, 35, 34, 33, 32, 31, 30, 30, 29, 28, 28, 27, 26, 26, 25, 24, 24, 23, 22, 22, 21, 20, 20, 19,
              18, 18, 17, 16, 16, 15, 14, 14, 13, 12, 12, 11, 10, 10, 9, 8, 8, 7, 6, 6, 5, 4, 4, 3, 2, 2, 1, 0, 0, -1,
              -2, -3, 50, 44, 36, 31, 27, 23, 19, 15, 11, 7, 3, 62, 53, 41]
aa_v1_resp = [50, 45, 35, 33, 30, 28, 27, 25, 24, 23, 22, 21, 20, 19, 18, 17, 16, 15, 14, 13, 12, 11, 10, 9, 8, 7, 6, 5,
              4, 3, 2, 1, 0, -1, -2, -3, -4, 26, 20, 15, 10, 5, 2, 0, 12, 8, 4, 1]
aa_m8_resp = [133, 108, 105, 100, 98, 95, 88, 85, 80, 75, 72, 68, 65, 60, 58, 55, 52, 50, 48, 45, 42, 40, 38, 35, 33,
              30, 28, 25, 22, 20, 18, 15, 12, 10, 8, 5, 3, 0, -3, 62, 57, 46, 41, 36, 31, 26, 21, 16, 11, 6]

# --- assemble panels from the named arrays ---
v1_panels = [
    dict(mean=pv_v1_mean, lo=pv_v1_lo, hi=pv_v1_hi, cells=pv_v1_cells, osc=pv_v1_osc, extra=[]),
    dict(mean=lh_v1_mean, lo=None, hi=None, cells=lh_v1_cells, osc=[], extra=[]),
    dict(mean=ph_v1_mean, lo=None, hi=None, cells=ph_v1_cells, osc=[], extra=[]),
    dict(mean=lp_v1_mean, lo=None, hi=None, cells=lp_v1_cells, osc=[], extra=[]),
    dict(mean=mb_v1_mean, lo=mb_v1_lo, hi=mb_v1_hi, cells=mb_v1_cells, osc=[], extra=[]),
    dict(mean=ch_v1_mean, lo=ch_v1_lo, hi=ch_v1_hi, cells=ch_v1_cells, osc=ch_v1_osc, extra=ch_v1_extra),
    dict(mean=aa_v1_mean, lo=aa_v1_lo, hi=aa_v1_hi, cells=aa_v1_cells, osc=[], extra=aa_v1_extra),
]
m8_panels = [
    dict(mean=pv_m8_mean, lo=pv_m8_lo, hi=pv_m8_hi, cells=pv_m8_cells, osc=pv_m8_osc, extra=[]),
    dict(mean=lh_m8_mean, lo=None, hi=None, cells=lh_m8_cells, osc=[], extra=[]),
    dict(mean=ph_m8_mean, lo=None, hi=None, cells=ph_m8_cells, osc=[], extra=[]),
    dict(mean=lp_m8_mean, lo=None, hi=None, cells=lp_m8_cells, osc=[], extra=[]),
    dict(mean=mb_m8_mean, lo=None, hi=None, cells=mb_m8_cells, osc=[], extra=[]),
    dict(mean=ch_m8_mean, lo=ch_m8_lo, hi=ch_m8_hi, cells=ch_m8_cells, osc=ch_m8_osc, extra=[]),
    dict(mean=aa_m8_mean, lo=None, hi=None, cells=aa_m8_cells, osc=[], extra=[]),
]
resp_v1 = [pv_v1_resp, lh_v1_resp, ph_v1_resp, lp_v1_resp, mb_v1_resp, ch_v1_resp, aa_v1_resp]
resp_m8 = [pv_m8_resp, lh_m8_resp, ph_m8_resp, lp_m8_resp, mb_m8_resp, ch_m8_resp, aa_m8_resp]

GREY = '#d3d3d3'
ORANGE = '#cd853f'
RED = '#b22222'
GREEN = '#006400'
FS = 7.5

W, H = 906, 1576
fig = plt.figure(figsize=(W / 100, H / 100), dpi=100)

row_bottoms = [191, 418, 644, 870, 1095, 1321, 1550]
ROW_H = 189


def rect(x0, x1, bottom):
    return [x0 / W, 1 - bottom / H, (x1 - x0) / W, ROW_H / H]


def style_frame(ax, labelsize=FS):
    for s in ['left', 'bottom']:
        ax.spines[s].set_color('black')
        ax.spines[s].set_linewidth(0.8)
    for s in ['top', 'right']:
        ax.spines[s].set_color('#a8a8a8')
        ax.spines[s].set_linewidth(0.8)
    ax.tick_params(direction='out', length=2.5, width=0.6, labelsize=labelsize, pad=1.5, colors='black')


def draw_traces(ax, p, n, ylim, stim, agonist_color):
    t = t_knots
    if p['lo'] is not None:
        ax.fill_between(t, p['lo'], p['hi'], color=GREY, lw=0.8)
    for c in p['cells']:
        ax.plot(t, c, color=GREY, lw=0.8)
    for o in p['osc']:
        ax.plot(t_osc, o, color=GREY, lw=0.8)
    for tt, vv in p['extra']:
        ax.plot(tt, vv, color=GREY, lw=0.8)
    ax.plot(t, p['mean'], color='black', lw=1.6)

    trans = mtransforms.blended_transform_factory(ax.transData, ax.transAxes)
    ax.plot([stim[0], stim[1]], [0.935, 0.935], transform=trans, color=ORANGE, lw=4, solid_capstyle='butt')
    ax.plot([stim[1], stim[2]], [0.935, 0.935], transform=trans, color=agonist_color, lw=4, solid_capstyle='butt')
    ax.text(0.04, 0.9, f"n = {n}", transform=ax.transAxes, fontsize=FS, ha='left', va='center')

    ax.set_xlim(-20, 440)
    ax.set_ylim(*ylim)
    ax.xaxis.set_major_locator(MultipleLocator(100))
    ax.yaxis.set_major_locator(MultipleLocator(0.8))
    ax.yaxis.set_major_formatter(FormatStrFormatter('%.1f'))
    ax.set_xlabel('Time (s)', fontsize=FS, labelpad=1)
    ax.set_ylabel('340/380 Ratio', fontsize=FS, labelpad=2)
    style_frame(ax)


for r in range(7):
    b = row_bottoms[r]
    fig.text(13 / W, 1 - (b - 80) / H, species[r], ha='left', va='center', fontsize=15,
             fontweight='bold', linespacing=1.15)

    ax1 = fig.add_axes(rect(197, 446, b))
    draw_traces(ax1, v1_panels[r], n_v1[r], ylim_v1[r], stim_v1[r], RED)

    ax2 = fig.add_axes(rect(509, 756, b))
    draw_traces(ax2, m8_panels[r], n_m8[r], ylim_m8[r], stim_m8[r], GREEN)

    ax3 = fig.add_axes(rect(830, 914, b))
    ax3.bar([1, 2], [bar_v1[r], bar_m8[r]], width=0.8, color=[RED, GREEN], zorder=1)
    for k, vals in enumerate([resp_v1[r], resp_m8[r]]):
        vals = np.array(vals, dtype=float)
        jit = ((np.arange(len(vals)) * 0.618034) % 1.0 - 0.5) * 0.42
        ax3.plot(k + 1 + jit, vals, 'o', ms=3, mfc='none', mec='black', mew=0.6, zorder=3)
    ax3.set_xlim(0.45, 2.55)
    ax3.set_ylim(-6, 151)
    ax3.set_xticks([1, 2])
    ax3.set_xticklabels(['TRPV1', 'TRPM8'])
    ax3.yaxis.set_major_locator(MultipleLocator(20))
    ax3.set_ylabel('Response Venom vs Agonist (%)', fontsize=7, labelpad=2)
    style_frame(ax3, labelsize=7.5)
    ax3.spines['top'].set_color('#333333')

fig.savefig('out.png', dpi=100)
